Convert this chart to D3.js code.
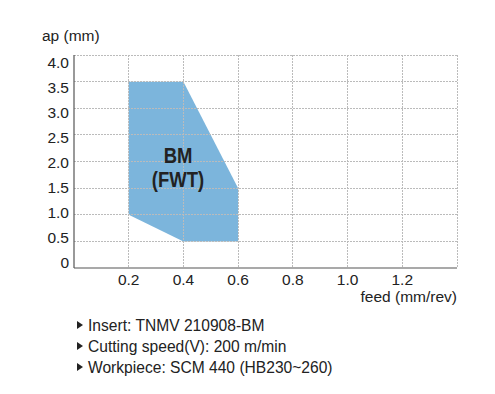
<!DOCTYPE html>
<html>
<head>
<meta charset="utf-8">
<script src="https://cdn.jsdelivr.net/npm/d3@7"></script>
<style>
  body { margin: 0; background: #fff; }
  text { font-family: "Liberation Sans", Arial, sans-serif; fill: #222; }
</style>
</head>
<body>
<div id="app"></div>
<script>
// data
const xTicks = [0.2, 0.4, 0.6, 0.8, 1.0, 1.2];
const xGrid = [0.2, 0.4, 0.6, 0.8, 1.0, 1.2, 1.4];
const yTicks = [0, 0.5, 1.0, 1.5, 2.0, 2.5, 3.0, 3.5, 4.0];
const regionFeed = [0.2, 0.2, 0.4, 0.6, 0.6, 0.4];
const regionAp = [1.0, 3.5, 3.5, 1.5, 0.5, 0.5];
const regionLabel = ["BM", "(FWT)"];
const notes = [
  "Insert: TNMV 210908-BM",
  "Cutting speed(V): 200 m/min",
  "Workpiece: SCM 440 (HB230~260)"
];

const W = 495, H = 394;
const svg = d3.select("#app").append("svg")
  .attr("width", W).attr("height", H);

const x = d3.scaleLinear().domain([0, 1.4]).range([74, 457]);
const y = d3.scaleLinear().domain([0, 4]).range([268, 55]);
// tick labels sit on a slightly tighter spacing than the grid
const yLab = d3.scaleLinear().domain([0, 4]).range([268, 68]);

// region
const pts = regionFeed.map((f, i) => [x(f), y(regionAp[i])]);
svg.append("polygon")
  .attr("points", pts.map(p => p.join(",")).join(" "))
  .attr("fill", "#7cb5dc");

// grid
svg.append("g").selectAll("line")
  .data(yTicks.filter(d => d > 0))
  .enter().append("line")
  .attr("x1", x(0)).attr("x2", x(1.4))
  .attr("y1", d => y(d)).attr("y2", d => y(d))
  .attr("stroke", "#bbb").attr("stroke-width", 1)
  .attr("stroke-dasharray", "2,1")
  .attr("shape-rendering", "crispEdges");

svg.append("g").selectAll("line")
  .data(xGrid)
  .enter().append("line")
  .attr("x1", d => x(d)).attr("x2", d => x(d))
  .attr("y1", y(4)).attr("y2", y(0))
  .attr("stroke", "#bbb").attr("stroke-width", 1)
  .attr("stroke-dasharray", "2,1")
  .attr("shape-rendering", "crispEdges");

// axes lines
svg.append("line")
  .attr("x1", x(0)).attr("x2", x(0))
  .attr("y1", y(4)).attr("y2", y(0))
  .attr("stroke", "#555").attr("stroke-width", 1.2);
svg.append("line")
  .attr("x1", x(0)).attr("x2", x(1.4))
  .attr("y1", y(0)).attr("y2", y(0))
  .attr("stroke", "#555").attr("stroke-width", 1.2);

// tick labels
svg.append("g").selectAll("text")
  .data(yTicks)
  .enter().append("text")
  .attr("x", 69).attr("y", d => yLab(d))
  .attr("text-anchor", "end")
  .attr("font-size", 15.5)
  .text(d => d === 0 ? "0" : d3.format(".1f")(d));

svg.append("g").selectAll("text")
  .data(xTicks)
  .enter().append("text")
  .attr("x", d => x(d)).attr("y", 285)
  .attr("text-anchor", "middle")
  .attr("font-size", 15.5)
  .text(d => d3.format(".1f")(d));

svg.append("text")
  .attr("x", 457).attr("y", 302)
  .attr("text-anchor", "end")
  .attr("font-size", 15.5)
  .text("feed (mm/rev)");

svg.append("text")
  .attr("x", 42).attr("y", 41)
  .attr("font-size", 15.5)
  .text("ap (mm)");

// region label
svg.append("g").selectAll("text")
  .data(regionLabel)
  .enter().append("text")
  .attr("transform", (d, i) => `translate(178,${163 + i * 24}) scale(0.84,1)`)
  .attr("text-anchor", "middle")
  .attr("font-size", 22).attr("font-weight", "bold")
  .text(d => d);

// notes
const ng = svg.append("g").selectAll("g")
  .data(notes)
  .enter().append("g")
  .attr("transform", (d, i) => `translate(77,${331 + i * 21})`);
ng.append("path")
  .attr("d", "M0,-10 L6,-6 L0,-2 Z")
  .attr("fill", "#222");
ng.append("text")
  .attr("x", 11).attr("y", 0)
  .attr("font-size", 15.6)
  .text(d => d);
</script>
</body>
</html>
